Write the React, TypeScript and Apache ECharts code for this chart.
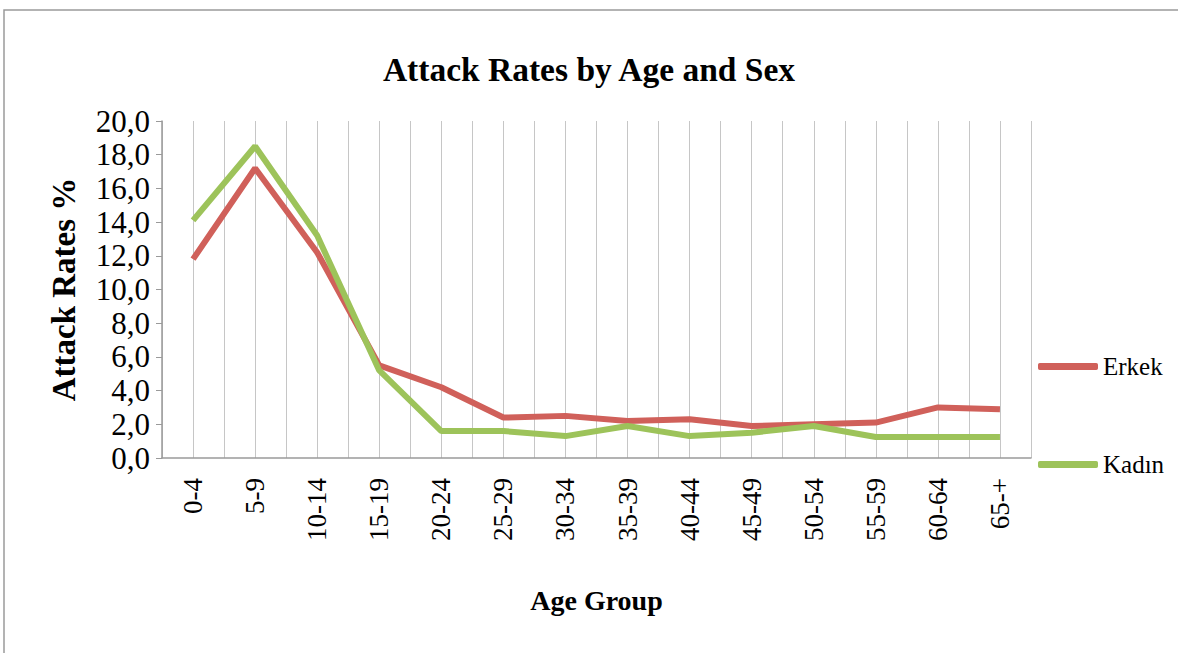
import React, { useEffect, useRef } from "react";
import * as echarts from "echarts";

const categories = ["0-4", "5-9", "10-14", "15-19", "20-24", "25-29", "30-34", "35-39", "40-44", "45-49", "50-54", "55-59", "60-64", "65-+"];
const erkek = [11.8, 17.2, 12.2, 5.5, 4.2, 2.4, 2.5, 2.2, 2.3, 1.9, 2.0, 2.1, 3.0, 2.9];
const kadin = [14.1, 18.5, 13.2, 5.2, 1.6, 1.6, 1.3, 1.9, 1.3, 1.5, 1.9, 1.25, 1.25, 1.25];
const yTicks = { min: 0, max: 20, interval: 2 };

const FONT = "'Liberation Serif', 'Times New Roman', serif";
const RED = "#D0605A";
const GREEN = "#9DC35A";
const GRID_COLOR = "#c6c6c6";

export default function App() {
  const ref = useRef<HTMLDivElement>(null);
  useEffect(() => {
    if (!ref.current) return;
    const chart = echarts.init(ref.current, null, { renderer: "svg" });
    chart.setOption({
      animation: false,
      backgroundColor: "#ffffff",
      textStyle: { fontFamily: FONT, color: "#000" },
      title: {
        text: "Attack Rates by Age and Sex",
        left: "center",
        top: 47,
        textStyle: { fontFamily: FONT, fontSize: 33.5, fontWeight: "bold", color: "#000" },
      },
      graphic: [
        {
          type: "rect",
          shape: { x: 4, y: 10, width: 1200, height: 700 },
          style: { fill: "none", stroke: "#9a9a9a", lineWidth: 1.5 },
          silent: true,
        },
      ],
      legend: [
        {
          data: ["Erkek"],
          left: 1033,
          top: 349,
          orient: "vertical",
          icon: "roundRect",
          itemWidth: 60,
          itemHeight: 7,
          textStyle: { fontFamily: FONT, fontSize: 25, color: "#000" },
        },
        {
          data: ["Kadın"],
          left: 1033,
          top: 447,
          orient: "vertical",
          icon: "roundRect",
          itemWidth: 60,
          itemHeight: 7,
          textStyle: { fontFamily: FONT, fontSize: 25, color: "#000" },
        },
      ],
      grid: { left: 162, right: 147, top: 121, bottom: 195 },
      xAxis: [
        {
          type: "category",
          data: categories,
          boundaryGap: true,
          name: "Age Group",
          nameLocation: "middle",
          nameGap: 128,
          nameTextStyle: { fontFamily: FONT, fontSize: 28, fontWeight: "bold", color: "#000" },
          axisLine: { lineStyle: { color: "#9a9a9a", width: 1.5 } },
          axisTick: { show: false },
          axisLabel: {
            rotate: 90,
            interval: 0,
            margin: 20,
            fontFamily: FONT,
            fontSize: 27,
            color: "#000",
          },
          splitLine: { show: false },
        },
        {
          type: "value",
          min: 0,
          max: 28,
          interval: 1,
          position: "bottom",
          axisLine: { show: false },
          axisTick: { show: false },
          axisLabel: { show: false },
          splitLine: { show: true, lineStyle: { color: GRID_COLOR, width: 1 } },
        },
      ],
      yAxis: {
        type: "value",
        min: yTicks.min,
        max: yTicks.max,
        interval: yTicks.interval,
        name: "Attack Rates %",
        nameLocation: "middle",
        nameGap: 82,
        nameRotate: 90,
        nameTextStyle: { fontFamily: FONT, fontSize: 33, fontWeight: "bold", color: "#000" },
        axisLine: { show: true, lineStyle: { color: "#9a9a9a", width: 1.5 } },
        axisTick: { show: true, inside: false, length: 6, lineStyle: { color: "#9a9a9a" } },
        axisLabel: {
          margin: 12,
          fontFamily: FONT,
          fontSize: 31,
          color: "#000",
          padding: [6, 0, 0, 0],
          formatter: (v: number) => v.toFixed(1).replace(".", ","),
        },
        splitLine: { show: false },
      },
      series: [
        {
          name: "Erkek",
          type: "line",
          data: erkek,
          xAxisIndex: 0,
          symbol: "none",
          lineStyle: { color: RED, width: 6 },
          itemStyle: { color: RED },
          z: 3,
        },
        {
          name: "Kadın",
          type: "line",
          data: kadin,
          xAxisIndex: 0,
          symbol: "none",
          lineStyle: { color: GREEN, width: 6 },
          itemStyle: { color: GREEN },
          z: 4,
        },
      ],
    });
    return () => chart.dispose();
  }, []);
  return (
    <div
      ref={ref}
      style={{ position: "fixed", left: 0, top: 0, width: 1178, height: 653 }}
    />
  );
}
